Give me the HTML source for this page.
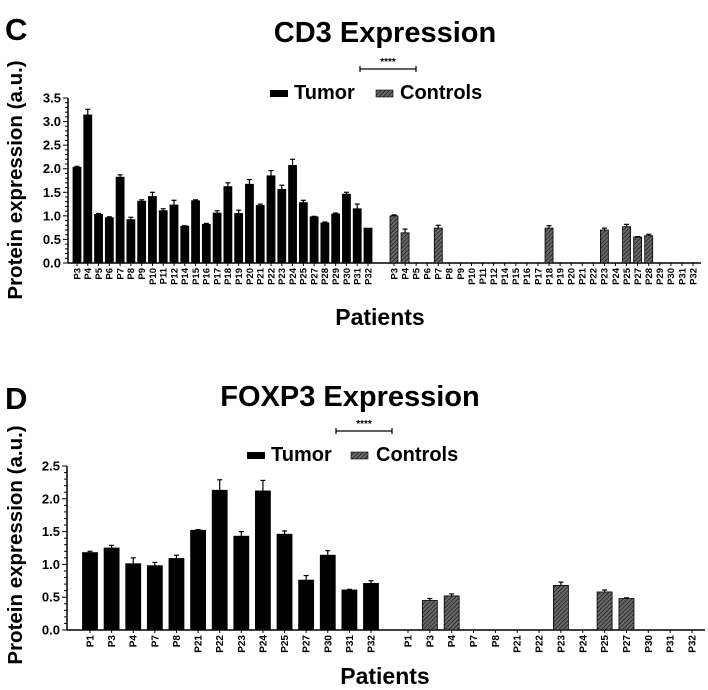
<!DOCTYPE html>
<html><head><meta charset="utf-8">
<style>
html,body{margin:0;padding:0;background:#fff;}
svg{display:block;font-family:"Liberation Sans",Arial,sans-serif;font-weight:bold;}
</style></head>
<body>
<svg id="fig" width="708" height="690" viewBox="0 0 708 690">
<defs>
<pattern id="hatch" patternUnits="userSpaceOnUse" width="3" height="3" patternTransform="rotate(45)">
<rect width="3" height="3" fill="#6a6a6a"/>
<line x1="0" y1="0" x2="0" y2="3" stroke="#111" stroke-width="1.4"/>
</pattern>
</defs>
<text x="5" y="40" font-size="31">C</text>
<text x="385" y="42" font-size="29" text-anchor="middle">CD3 Expression</text>
<g>
<line x1="360" y1="69" x2="416" y2="69" stroke="#000" stroke-width="1.2"/>
<line x1="360" y1="66" x2="360" y2="72" stroke="#000" stroke-width="1.2"/>
<line x1="416" y1="66" x2="416" y2="72" stroke="#000" stroke-width="1.2"/>
<text x="388" y="65" font-size="10" text-anchor="middle">****</text>
</g>
<g>
<rect x="270" y="90" width="18" height="7" fill="#000"/>
<text x="294" y="99" font-size="20">Tumor</text>
<rect x="376" y="90" width="17" height="7" fill="url(#hatch)" stroke="#000" stroke-width="0.6"/>
<text x="400" y="99" font-size="20">Controls</text>
</g>
<text transform="translate(22,180) rotate(-90)" font-size="20.5" text-anchor="middle">Protein expression (a.u.)</text>
<text x="380" y="325" font-size="23" text-anchor="middle">Patients</text>
<g id="cd3"></g>

<text x="5" y="409" font-size="31">D</text>
<text x="350" y="406" font-size="29" text-anchor="middle">FOXP3 Expression</text>
<g>
<line x1="336" y1="431" x2="392" y2="431" stroke="#000" stroke-width="1.2"/>
<line x1="336" y1="428" x2="336" y2="434" stroke="#000" stroke-width="1.2"/>
<line x1="392" y1="428" x2="392" y2="434" stroke="#000" stroke-width="1.2"/>
<text x="364" y="427" font-size="10" text-anchor="middle">****</text>
</g>
<g>
<rect x="247" y="452" width="18" height="7" fill="#000"/>
<text x="271" y="461" font-size="20">Tumor</text>
<rect x="351" y="452" width="17" height="7" fill="url(#hatch)" stroke="#000" stroke-width="0.6"/>
<text x="376" y="461" font-size="20">Controls</text>
</g>
<text transform="translate(22,545) rotate(-90)" font-size="20.5" text-anchor="middle">Protein expression (a.u.)</text>
<text x="385" y="684" font-size="23" text-anchor="middle">Patients</text>
<g id="foxp3"></g>
</svg>
<script>
const cd3Categories = ["P3","P4","P5","P6","P7","P8","P9","P10","P11","P12","P14","P15","P16","P17","P18","P19","P20","P21","P22","P23","P24","P25","P27","P28","P29","P30","P31","P32"];
const cd3Tumor = [2.03,3.14,1.03,0.96,1.82,0.92,1.31,1.41,1.11,1.23,0.78,1.32,0.82,1.06,1.62,1.05,1.67,1.22,1.85,1.56,2.07,1.28,0.98,0.85,1.04,1.46,1.15,0.74];
const cd3TumorErr = [0.02,0.12,0.02,0.02,0.05,0.05,0.03,0.09,0.04,0.1,0.01,0.02,0.02,0.05,0.08,0.07,0.1,0.03,0.11,0.09,0.13,0.05,0.01,0.02,0.02,0.04,0.1,0];
const cd3Controls = [1.0,0.64,0,0,0.74,0,0,0,0,0,0,0,0,0,0.74,0,0,0,0,0.7,0,0.77,0.55,0.58,0,0,0,0];
const cd3ControlsErr = [0.02,0.08,0,0,0.06,0,0,0,0,0,0,0,0,0,0.05,0,0,0,0,0.04,0,0.05,0.01,0.03,0,0,0,0];
const cd3Ticks = ["0.0","0.5","1.0","1.5","2.0","2.5","3.0","3.5"];

const foxCategories = ["P1","P3","P4","P7","P8","P21","P22","P23","P24","P25","P27","P30","P31","P32"];
const foxTumor = [1.18,1.25,1.01,0.98,1.09,1.52,2.13,1.43,2.12,1.46,0.76,1.14,0.61,0.71];
const foxTumorErr = [0.02,0.04,0.09,0.05,0.05,0.01,0.16,0.07,0.16,0.05,0.07,0.07,0.01,0.04];
const foxControls = [0,0.45,0.52,0,0,0,0,0.68,0,0.58,0.48,0,0,0];
const foxControlsErr = [0,0.03,0.03,0,0,0,0,0.05,0,0.03,0.01,0,0,0];
const foxTicks = ["0.0","0.5","1.0","1.5","2.0","2.5"];

const NS="http://www.w3.org/2000/svg";
function mk(parent,tag,attrs){const e=document.createElementNS(NS,tag);for(const k in attrs)e.setAttribute(k,attrs[k]);parent.appendChild(e);return e;}

function drawChart(g,cfg){
  const yScale=v=>cfg.y0-(v/cfg.ymax)*(cfg.y0-cfg.ytop);
  const n=cfg.cats.length;
  const xT=i=>cfg.t0+(cfg.t1-cfg.t0)*i/(n-1);
  const xC=i=>cfg.c0+(cfg.c1-cfg.c0)*i/(n-1);
  const ya=mk(g,"line",{x1:cfg.ax,y1:cfg.y0,x2:cfg.ax,y2:cfg.ytop,stroke:"#000","stroke-width":1.5});
  
  
  const steps=Math.round(cfg.ymax/0.1);
  for(let k=0;k<=steps;k++){
    const v=k*0.1,y=yScale(v),major=k%5===0;
    mk(g,"line",{x1:cfg.ax-(major?5:3),y1:y,x2:cfg.ax,y2:y,stroke:"#000","stroke-width":1});
  }
  cfg.ticks.forEach((t)=>{
    const lab=mk(g,"text",{x:cfg.ax-7,y:yScale(parseFloat(t))+4.5,"font-size":13,"text-anchor":"end"});
    lab.textContent=t;
    
    
  });
  const xa=mk(g,"line",{x1:cfg.ax,y1:cfg.y0,x2:cfg.xend,y2:cfg.y0,stroke:"#000","stroke-width":1.5});
  
  
  function series(vals,errs,xf,fill,name){
    vals.forEach((v,i)=>{
      const x=xf(i);
      mk(g,"line",{x1:x,y1:cfg.y0,x2:x,y2:cfg.y0+3,stroke:"#000","stroke-width":1});
      const lab=mk(g,"text",{transform:`translate(${x+cfg.fs*0.35},${cfg.y0+5}) rotate(-90)`,"font-size":cfg.fs,"text-anchor":"end"});
      lab.textContent=cfg.cats[i];
      
      
      if(v>0){
        const yt=yScale(v);
        if(errs[i]>0){
          const ye=yScale(v+errs[i]);
          mk(g,"line",{x1:x,y1:yt,x2:x,y2:ye,stroke:"#000","stroke-width":1.2});
          mk(g,"line",{x1:x-2.5,y1:ye,x2:x+2.5,y2:ye,stroke:"#000","stroke-width":1.2});
        }
        const b=mk(g,"rect",{x:x-cfg.bw/2,y:yt,width:cfg.bw,height:cfg.y0-yt,fill:fill,stroke:"#000","stroke-width":0.8});
        
        
      }
    });
  }
  series(cfg.tumor,cfg.tumorErr,xT,"#000","tumor");
  series(cfg.controls,cfg.controlsErr,xC,"url(#hatch)","control");
}

drawChart(document.getElementById("cd3"),{cats:cd3Categories,tumor:cd3Tumor,tumorErr:cd3TumorErr,controls:cd3Controls,controlsErr:cd3ControlsErr,ticks:cd3Ticks,
  ax:68,y0:263,ytop:98,ymax:3.5,t0:77,t1:368,c0:394,c1:693,xend:701,bw:8,fs:9.5});
drawChart(document.getElementById("foxp3"),{cats:foxCategories,tumor:foxTumor,tumorErr:foxTumorErr,controls:foxControls,controlsErr:foxControlsErr,ticks:foxTicks,
  ax:67,y0:630,ytop:466,ymax:2.5,t0:90,t1:371,c0:408,c1:692,xend:705,bw:15,fs:10});
</script>
</body></html>
